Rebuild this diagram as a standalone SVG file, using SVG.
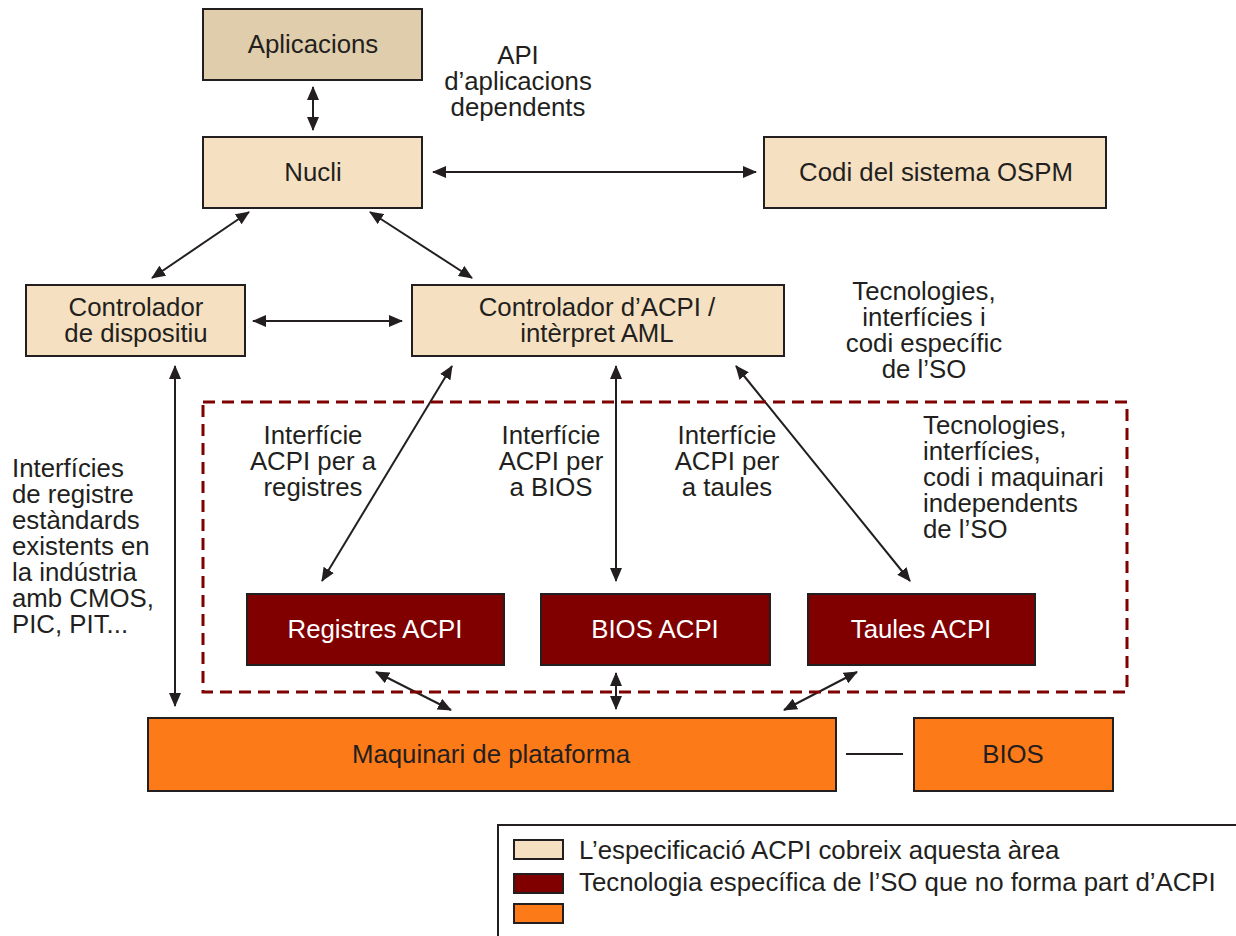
<svg xmlns="http://www.w3.org/2000/svg" width="1236" height="936" viewBox="0 0 1236 936">
<defs>
<style>
.bx{stroke:#231f20;stroke-width:2}
.app{fill:#e0cdab}
.acpi{fill:#f5e1c1}
.os{fill:#800000}
.hw{fill:#fd7a18}
text{font-family:"Liberation Sans",Arial,sans-serif;font-size:25.8px;fill:#231f20}
.c{text-anchor:middle}
.w{fill:#ffffff}
.cn{stroke:#231f20;stroke-width:2;fill:none;marker-start:url(#ah);marker-end:url(#ah)}
</style>
<marker id="ah" viewBox="0 0 14 12" refX="13" refY="6" markerWidth="14" markerHeight="12" markerUnits="userSpaceOnUse" orient="auto-start-reverse">
<path d="M0,0 L14,6 L0,12 Z" fill="#231f20"/>
</marker>
</defs>
<rect x="0" y="0" width="1236" height="936" fill="#ffffff"/>

<g id="connectors">
<line class="cn" x1="313" y1="87" x2="313" y2="130"/>
<line class="cn" x1="433" y1="172" x2="756" y2="172"/>
<line class="cn" x1="249" y1="212" x2="152" y2="278"/>
<line class="cn" x1="370" y1="212" x2="472" y2="278"/>
<line class="cn" x1="253" y1="321" x2="402" y2="321"/>
<line class="cn" x1="175" y1="366" x2="175" y2="706"/>
<line class="cn" x1="452" y1="366" x2="322" y2="581"/>
<line class="cn" x1="616" y1="366" x2="616" y2="581"/>
<line class="cn" x1="736" y1="366" x2="910" y2="581"/>
<line class="cn" x1="376" y1="672" x2="451" y2="710"/>
<line class="cn" x1="616" y1="673" x2="616" y2="709"/>
<line class="cn" x1="857" y1="672" x2="784" y2="710"/>
<line x1="846" y1="754" x2="903" y2="754" stroke="#231f20" stroke-width="2"/>
</g>

<g id="dashed-area">
<rect x="203" y="402" width="924" height="290" fill="none" stroke="#7f0000" stroke-width="3" stroke-dasharray="12,7"/>
</g>

<g id="aplicacions"><rect class="bx app" x="203" y="9" width="219" height="71"/><text class="c" x="313" y="53">Aplicacions</text></g>
<g id="api-label"><text class="c" x="518" y="64">API</text><text class="c" x="518" y="90">d’aplicacions</text><text class="c" x="518" y="116">dependents</text></g>
<g id="nucli"><rect class="bx acpi" x="203" y="137" width="219" height="71"/><text class="c" x="313" y="181">Nucli</text></g>
<g id="ospm"><rect class="bx acpi" x="764" y="137" width="342" height="71"/><text class="c" x="936" y="181">Codi del sistema OSPM</text></g>
<g id="ctrl-disp"><rect class="bx acpi" x="26" y="285" width="219" height="71"/><text class="c" x="136" y="316">Controlador</text><text class="c" x="136" y="342">de dispositiu</text></g>
<g id="ctrl-acpi"><rect class="bx acpi" x="412" y="285" width="372" height="71"/><text class="c" x="597" y="316">Controlador d’ACPI /</text><text class="c" x="597" y="342">intèrpret AML</text></g>
<g id="os-label"><text class="c" x="924" y="300">Tecnologies,</text><text class="c" x="924" y="326">interfícies i</text><text class="c" x="924" y="352">codi específic</text><text class="c" x="924" y="378">de l’SO</text></g>
<g id="std-label"><text x="12" y="477">Interfícies</text><text x="12" y="503">de registre</text><text x="12" y="529">estàndards</text><text x="12" y="555">existents en</text><text x="12" y="581">la indústria</text><text x="12" y="607">amb CMOS,</text><text x="12" y="633">PIC, PIT...</text></g>
<g id="if-reg"><text class="c" x="313" y="444">Interfície</text><text class="c" x="313" y="470">ACPI per a</text><text class="c" x="313" y="496">registres</text></g>
<g id="if-bios"><text class="c" x="551" y="444">Interfície</text><text class="c" x="551" y="470">ACPI per</text><text class="c" x="551" y="496">a BIOS</text></g>
<g id="if-taules"><text class="c" x="727" y="444">Interfície</text><text class="c" x="727" y="470">ACPI per</text><text class="c" x="727" y="496">a taules</text></g>
<g id="indep-label"><text x="923" y="434">Tecnologies,</text><text x="923" y="460">interfícies,</text><text x="923" y="486">codi i maquinari</text><text x="923" y="512">independents</text><text x="923" y="538">de l’SO</text></g>
<g id="registres"><rect class="bx os" x="247" y="594" width="257" height="71"/><text class="c w" x="375" y="638">Registres ACPI</text></g>
<g id="bios-acpi"><rect class="bx os" x="541" y="594" width="229" height="71"/><text class="c w" x="655" y="638">BIOS ACPI</text></g>
<g id="taules"><rect class="bx os" x="808" y="594" width="227" height="71"/><text class="c w" x="921" y="638">Taules ACPI</text></g>
<g id="maquinari"><rect class="bx hw" x="148" y="718" width="688" height="73"/><text class="c" x="491" y="763">Maquinari de plataforma</text></g>
<g id="bios"><rect class="bx hw" x="914" y="718" width="199" height="73"/><text class="c" x="1013" y="763">BIOS</text></g>

<g id="legend">
<rect x="498" y="825" width="740" height="115" fill="#ffffff" stroke="#231f20" stroke-width="2"/>
<rect class="bx acpi" x="514" y="840" width="49" height="19"/>
<rect class="bx os" x="514" y="874" width="49" height="19"/>
<rect class="bx hw" x="514" y="904" width="49" height="19"/>
<text x="579" y="859">L’especificació ACPI cobreix aquesta àrea</text>
<text x="579" y="891">Tecnologia específica de l’SO que no forma part d’ACPI</text>
</g>
</svg>
